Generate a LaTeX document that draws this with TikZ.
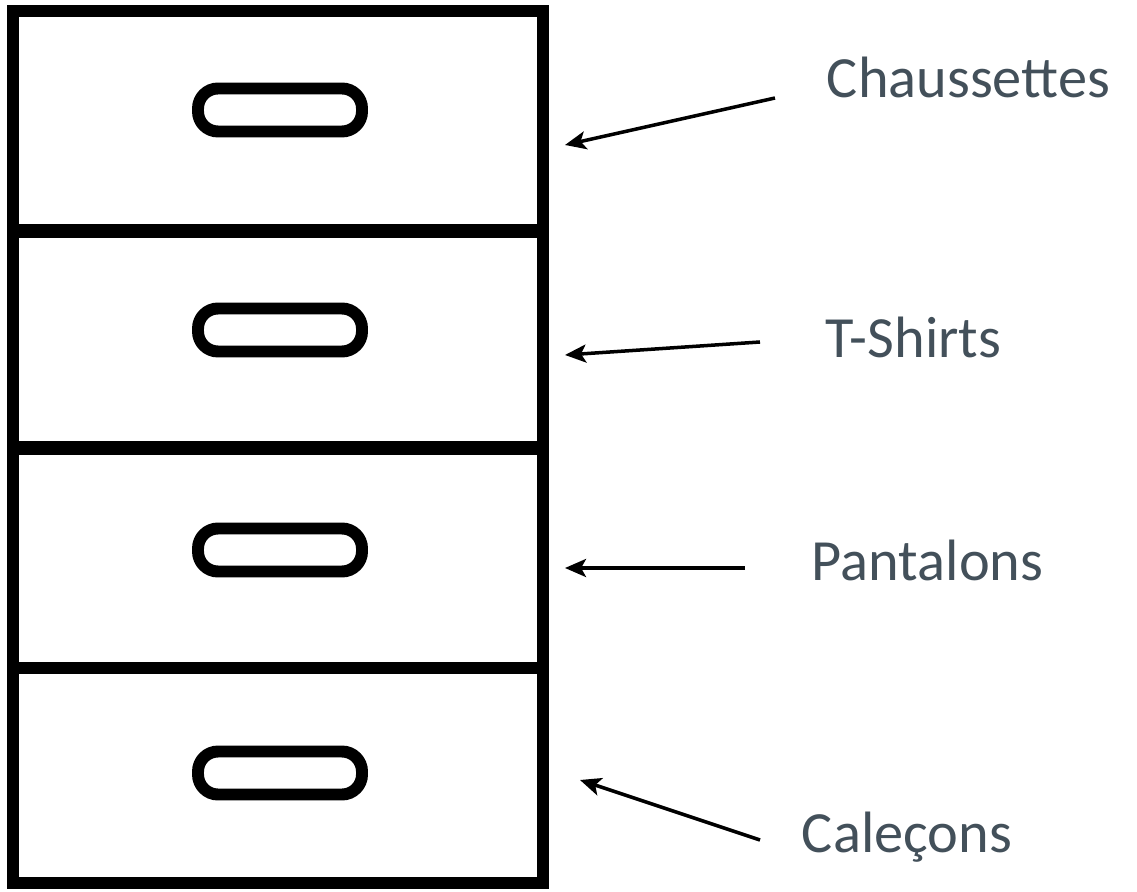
\documentclass[tikz,border=0pt]{standalone}
\usepackage{fontspec}
\setmainfont{Carlito}
\usepackage{xcolor}
\usetikzlibrary{arrows.meta}
\definecolor{labelgray}{HTML}{43505A}

\begin{document}
\begin{tikzpicture}[x=0.1mm, y=-0.1mm, line width=3.4pt,
    handle/.style={draw, rounded corners=2mm, minimum width=16.4mm, minimum height=4.3mm},
    lbl/.style={anchor=base west, inner sep=0pt, text=labelgray,
      font=\fontsize{16.6}{20}\selectfont},
    >={Stealth[length=2.1mm, width=1.8mm, inset=0.5mm]}]
          \useasboundingbox (0,0) rectangle (1137,892);

          % the chest and its drawers
          \draw (13,11) rectangle (543,883);
          \draw[line width=4.2pt] (13,231) -- (543,231);
          \draw[line width=4.2pt] (13,448) -- (543,448);
          \draw (13,668) -- (543,668);

          \node[handle](H1) at (280,110) {};
          \node[handle](H2) at (280,330) {};
          \node[handle](H3) at (280,550) {};
          \node[handle](H4) at (280,773) {};

          % labels
          \node[lbl](chaus) at (821,98)  {Chaussettes};
          \node[lbl](shirt) at (820,358) {T-Shirts};
          \node[lbl](pant)  at (806,580) {Pantalons};
          \node[lbl](calec) at (796,852) {Caleçons};

          \coordinate(a1) at (775,98);  \coordinate(d1) at (565,145);
          \coordinate(a2) at (760,342); \coordinate(d2) at (565,355);
          \coordinate(a3) at (745,568); \coordinate(d3) at (565,568);
          \coordinate(a4) at (760,840); \coordinate(d4) at (580,780);

          \path[->, line width=1pt] (a1) edge (d1) (a2) edge (d2)
            (a3) edge (d3) (a4) edge (d4);
        \end{tikzpicture}
\end{document}
